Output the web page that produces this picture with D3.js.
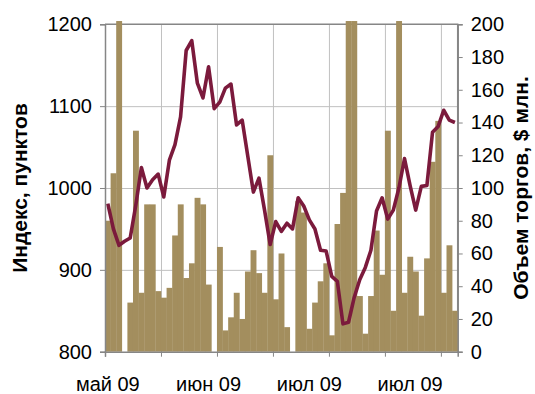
<!DOCTYPE html>
<html>
<head>
<meta charset="utf-8">
<script src="https://cdn.jsdelivr.net/npm/d3@7"></script>
<style>
  body { margin: 0; background: #fff; }
</style>
</head>
<body>
<svg width="535" height="394"></svg>
<script>
// index, points (left axis)
const indexValues = [
  981, 950, 930, 935, 939, 979, 1025, 1000, 1010, 1017,
  989, 1034, 1053, 1087, 1168, 1180, 1128, 1110, 1148, 1097,
  1105, 1122, 1127, 1077, 1083, 1039, 995, 1012, 973, 931,
  959, 947, 957, 950, 988, 978, 961, 950, 924, 923,
  892, 886, 834, 836, 866, 888, 903, 924, 972, 988,
  962, 973, 1000, 1036, 1003, 973, 1002, 1003, 1068, 1075,
  1095, 1083, 1080
];
// trading volume, $ mln (right axis)
const volumeValues = [
  80, 109, 202, 0, 30, 135, 36, 90, 90, 37,
  33, 39, 71, 90, 45, 54, 94, 90, 41, 0,
  64, 13, 21, 36, 20, 49, 62, 48, 36, 120,
  32, 60, 15, 0, 92, 85, 14, 30, 43, 54,
  10, 78, 97, 202, 202, 34, 11, 34, 74, 47,
  135, 25, 202, 36, 58, 49, 22, 57, 116, 141,
  36, 65, 25
];
const xLabels = ['май 09', 'июн 09', 'июл 09', 'июл 09'];
const labelEvery = 18;
const tickEvery = 10;
const leftTicks = [800, 900, 1000, 1100, 1200];
const rightTicks = [0, 20, 40, 60, 80, 100, 120, 140, 160, 180, 200];

const font = '"Liberation Sans", Arial, sans-serif';
const svg = d3.select('svg').attr('font-family', font);
const width = +svg.attr('width');
const height = +svg.attr('height');
const margin = { top: 24.3, right: 77.3, bottom: 42.3, left: 105 };
const innerWidth = width - margin.left - margin.right;
const innerHeight = height - margin.top - margin.bottom;
const n = indexValues.length;

const g = svg.append('g')
  .attr('transform', `translate(${margin.left},${margin.top})`);

const xBand = d3.scaleBand()
  .domain(d3.range(n))
  .range([0, innerWidth])
  .padding(0);
const xLin = d3.scaleLinear().domain([0, n]).range([0, innerWidth]);
const yLeft = d3.scaleLinear().domain([800, 1200]).range([innerHeight, 0]);
const yRight = d3.scaleLinear().domain([0, 200]).range([innerHeight, 0]);

const gridColor = '#c0c0c0';
const axisColor = '#868686';

// styles the tick text of an axis group
const styleAxis = sel => sel
  .attr('font-family', font)
  .attr('font-size', 20)
  .call(a => a.selectAll('text').attr('fill', '#000'));

// gridlines
g.append('g').call(d3.axisLeft(yLeft).tickValues(leftTicks.slice(1, -1)).tickSize(-innerWidth).tickFormat(''))
  .call(a => a.select('.domain').remove())
  .selectAll('line').attr('stroke', gridColor);
const vTicks = d3.range(tickEvery, n, tickEvery);
g.append('g').attr('transform', `translate(0,${innerHeight})`)
  .call(d3.axisBottom(xLin).tickValues(vTicks).tickSize(innerHeight).tickFormat(''))
  .call(a => a.select('.domain').remove())
  .selectAll('line').attr('stroke', gridColor).attr('y2', -innerHeight);

// frame top and right
g.append('path')
  .attr('d', `M0,0H${innerWidth}V${innerHeight}`)
  .attr('fill', 'none').attr('stroke', axisColor).attr('stroke-width', 1.5);

// bars
g.append('g').selectAll('rect').data(volumeValues).join('rect')
  .attr('x', (d, i) => xBand(i))
  .attr('width', xBand.bandwidth() + 0.3)
  .attr('y', d => yRight(d))
  .attr('height', d => innerHeight - yRight(d))
  .attr('fill', '#a38e5e');

// line
const line = d3.line()
  .x((d, i) => xBand(i) + xBand.bandwidth() / 2)
  .y(d => yLeft(d));
g.append('path')
  .attr('d', line(indexValues))
  .attr('fill', 'none')
  .attr('stroke', '#7b1a3c')
  .attr('stroke-width', 3.6)
  .attr('stroke-linejoin', 'round');

// left axis
const leftAxis = g.append('g')
  .call(d3.axisLeft(yLeft).tickValues(leftTicks).tickSize(5).tickPadding(8).tickFormat(d3.format('d')))
  .call(styleAxis);
leftAxis.select('.domain').attr('stroke', axisColor).attr('stroke-width', 1.5);
leftAxis.selectAll('line').attr('stroke', axisColor);

// right axis
const rightAxis = g.append('g')
  .attr('transform', `translate(${innerWidth},0)`)
  .call(d3.axisRight(yRight).tickValues(rightTicks).tickSize(5).tickPadding(8).tickFormat(d3.format('d')))
  .call(styleAxis);
rightAxis.select('.domain').attr('stroke', axisColor).attr('stroke-width', 1.5);
rightAxis.selectAll('line').attr('stroke', axisColor);

// bottom axis: tick marks and labels
const bottomTicks = g.append('g')
  .attr('transform', `translate(0,${innerHeight})`)
  .call(d3.axisBottom(xLin).tickValues(d3.range(0, n, tickEvery)).tickSize(5).tickFormat(''));
bottomTicks.select('.domain').attr('stroke', axisColor).attr('stroke-width', 1.5);
bottomTicks.selectAll('line').attr('stroke', axisColor);

const labelIdx = xLabels.map((d, k) => k * labelEvery);
g.append('g')
  .attr('transform', `translate(0,${innerHeight})`)
  .call(d3.axisBottom(xBand).tickValues(labelIdx).tickSize(0).tickPadding(25)
    .tickFormat((d, k) => xLabels[k]))
  .call(a => a.select('.domain').remove())
  .call(styleAxis);

// axis titles
g.append('text')
  .attr('transform', `translate(${-78},${innerHeight / 2}) rotate(-90)`)
  .attr('text-anchor', 'middle')
  .attr('font-size', 21)
  .attr('font-weight', 'bold')
  .text('Индекс, пунктов');

g.append('text')
  .attr('transform', `translate(${innerWidth + 70},${innerHeight / 2}) rotate(-90)`)
  .attr('text-anchor', 'middle')
  .attr('font-size', 21)
  .attr('font-weight', 'bold')
  .text('Объем торгов, $ млн.');
</script>
</body>
</html>
